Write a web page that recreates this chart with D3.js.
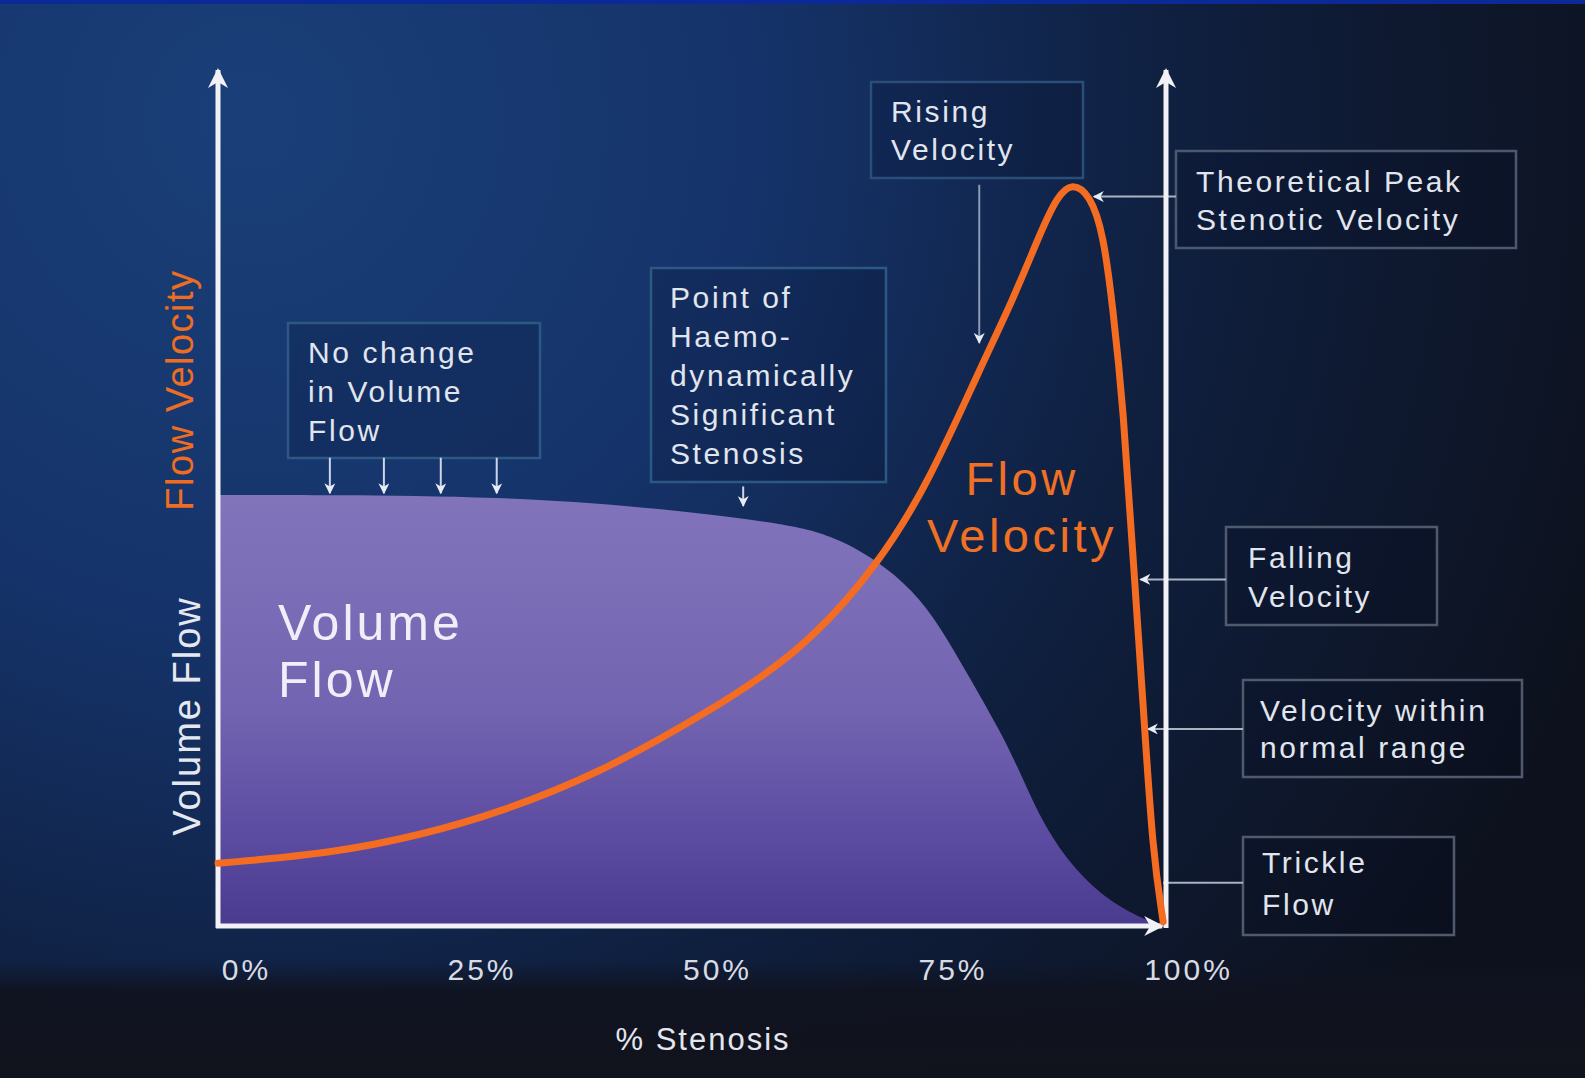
<!DOCTYPE html>
<html lang="en">
<head>
<meta charset="UTF-8">
<title>Flow velocity and volume flow vs % stenosis</title>
<script src="https://d3js.org/d3.v7.min.js"></script>
<style>
  html, body { margin: 0; padding: 0; background: #0e1322; }
  svg { display: block; font-family: "Liberation Sans", Arial, sans-serif; }
</style>
</head>
<body>
<script>
// ---- data (x = % stenosis, y = relative units 0-100) ----
var stenosisTicks = [0, 25, 50, 75, 100];

var volumeX = [0, 11.8, 29.7, 45.1, 59.3, 64.6, 69.5, 73.3, 76.2, 79.0, 82.5, 84.6, 87.2, 90.4, 94.1, 97.8, 99.4];
var volumeY = [50.9, 50.9, 50.7, 49.5, 47.6, 46.2, 43.2, 39.6, 35.3, 29.8, 23.0, 18.1, 11.5, 6.5, 2.7, 0.6, 0];

var velocityX = [0, 12.2, 21.6, 29.7, 40.3, 50.8, 61.4, 69.8, 75.1, 80.4, 83.9, 86.7, 88.5, 90.1, 92.0, 93.4, 94.4, 95.5, 96.5, 97.6, 98.6, 99.7];
var velocityY = [7.3, 8.5, 10.7, 13.3, 18.0, 24.6, 32.1, 42.8, 52.7, 65.9, 74.1, 81.8, 86.2, 87.9, 86.4, 81.8, 73.0, 61.2, 43.7, 26.0, 8.5, 0.4];

// annotation texts and the point (x %, y units) each one refers to
var noteLines = [
  ["No change", "in Volume", "Flow"],
  ["Point of", "Haemo-", "dynamically", "Significant", "Stenosis"],
  ["Rising", "Velocity"],
  ["Theoretical Peak", "Stenotic Velocity"],
  ["Falling", "Velocity"],
  ["Velocity within", "normal range"],
  ["Trickle", "Flow"]
];
var noChangeArrowsX = [11.8, 17.5, 23.5, 29.4];
var haemoArrowX = 55.4;
var risingArrow = [80.3, 87.6, 68.9];   // x, from y, to y
var sideAnchors = [[92.4, 86.2], [97.3, 40.9], [98.1, 23.2], [99.7, 5.0]]; // peak, falling, normal, trickle

// ---- layout ----
var W = 1585, H = 1078;
var svg = d3.select("body").append("svg")
    .attr("width", W)
    .attr("height", H);

var x = d3.scaleLinear().domain([0, 100]).range([218, 1166]);
var y = d3.scaleLinear().domain([0, 100]).range([925, 80]);
var xLabel = d3.scaleLinear().domain([0, 100]).range([246, 1188]);

var defs = svg.append("defs");

var bg = defs.append("radialGradient").attr("id", "bg")
    .attr("gradientUnits", "userSpaceOnUse")
    .attr("cx", 250).attr("cy", 120).attr("r", 1450);
bg.append("stop").attr("offset", 0).attr("stop-color", "#1a3f78");
bg.append("stop").attr("offset", 0.35).attr("stop-color", "#15336a");
bg.append("stop").attr("offset", 0.65).attr("stop-color", "#0f1f3e");
bg.append("stop").attr("offset", 1).attr("stop-color", "#0d111d");

var band = defs.append("linearGradient").attr("id", "band")
    .attr("x1", 0).attr("y1", 0).attr("x2", 0).attr("y2", 1);
band.append("stop").attr("offset", 0).attr("stop-color", "#0f1424").attr("stop-opacity", 0);
band.append("stop").attr("offset", 0.25).attr("stop-color", "#10131f").attr("stop-opacity", 0.9);
band.append("stop").attr("offset", 1).attr("stop-color", "#11131c").attr("stop-opacity", 1);

var fillGrad = defs.append("linearGradient").attr("id", "vol")
    .attr("gradientUnits", "userSpaceOnUse")
    .attr("x1", 0).attr("y1", y(51)).attr("x2", 0).attr("y2", y(0));
fillGrad.append("stop").attr("offset", 0).attr("stop-color", "#8274bb");
fillGrad.append("stop").attr("offset", 0.5).attr("stop-color", "#7364b1");
fillGrad.append("stop").attr("offset", 0.8).attr("stop-color", "#5b4ba1");
fillGrad.append("stop").attr("offset", 1).attr("stop-color", "#4b3b8f");

// arrow heads
function marker(id, color, size) {
  defs.append("marker").attr("id", id)
      .attr("viewBox", "0 0 10 10").attr("refX", 9).attr("refY", 5)
      .attr("markerWidth", size).attr("markerHeight", size)
      .attr("markerUnits", "userSpaceOnUse")
      .attr("orient", "auto")
      .append("path").attr("d", "M0,0 L10,5 L0,10 L3,5 Z").attr("fill", color);
}
marker("axisHead", "#f2f2f6", 20);
marker("noteHead", "#e8ecf4", 11);

svg.append("rect").attr("width", W).attr("height", H).attr("fill", "url(#bg)");
svg.append("rect").attr("y", 960).attr("width", W).attr("height", H - 960).attr("fill", "url(#band)");
svg.append("rect").attr("width", W).attr("height", 4).attr("fill", "#0b2a98");

// ---- volume flow area ----
var volData = volumeX.map(function (d, i) { return [d, volumeY[i]]; });
var area = d3.area()
    .x(function (d) { return x(d[0]); })
    .y0(y(0))
    .y1(function (d) { return y(d[1]); })
    .curve(d3.curveBasis);
svg.append("path").datum(volData)
    .attr("d", area)
    .attr("fill", "url(#vol)");

svg.append("text")
    .attr("x", 278).attr("y", 640)
    .attr("fill", "#f1eef8").attr("font-size", 50).attr("letter-spacing", 3)
    .selectAll("tspan").data(["Volume", "Flow"]).join("tspan")
    .attr("x", 278).attr("dy", function (d, i) { return i ? 57 : 0; })
    .text(function (d) { return d; });

// ---- annotation boxes ----
var boxes = [
  { r: [288, 323, 252, 135], tx: 308, ty: 363, stroke: "#2c5884" },
  { r: [651, 268, 235, 214], tx: 670, ty: 308, stroke: "#2c5884" },
  { r: [871, 82, 212, 96], tx: 891, ty: 122, stroke: "#2b4e78" },
  { r: [1176, 151, 340, 97], tx: 1196, ty: 192, stroke: "#4b5870" },
  { r: [1226, 527, 211, 98], tx: 1248, ty: 568, stroke: "#4f5a6c" },
  { r: [1243, 680, 279, 97], tx: 1260, ty: 721, stroke: "#4f5a6c" },
  { r: [1243, 837, 211, 98], tx: 1262, ty: 873, stroke: "#4f5a6c" }
];
var lineGap = [39, 39, 38, 38, 39, 37, 42];

boxes.forEach(function (b, k) {
  svg.append("rect")
      .attr("x", b.r[0]).attr("y", b.r[1]).attr("width", b.r[2]).attr("height", b.r[3])
      .attr("fill", "rgba(5,12,35,0.18)")
      .attr("stroke", b.stroke).attr("stroke-width", 2.5);
  svg.append("text")
      .attr("fill", "#e1e5ee").attr("font-size", 30).attr("letter-spacing", 2.6)
      .selectAll("tspan").data(noteLines[k]).join("tspan")
      .attr("x", b.tx)
      .attr("y", function (d, i) { return b.ty + i * lineGap[k]; })
      .text(function (d) { return d; });
});

// down arrows under the first two boxes
svg.selectAll(".nc").data(noChangeArrowsX).join("line")
    .attr("x1", function (d) { return x(d); }).attr("x2", function (d) { return x(d); })
    .attr("y1", y(55.3)).attr("y2", y(51.1))
    .attr("stroke", "#cdd6e6").attr("stroke-width", 2)
    .attr("marker-end", "url(#noteHead)");

svg.append("line")
    .attr("x1", x(haemoArrowX)).attr("x2", x(haemoArrowX))
    .attr("y1", y(51.9)).attr("y2", y(49.6))
    .attr("stroke", "#cdd6e6").attr("stroke-width", 2)
    .attr("marker-end", "url(#noteHead)");

svg.append("line")
    .attr("x1", x(risingArrow[0])).attr("x2", x(risingArrow[0]))
    .attr("y1", y(risingArrow[1])).attr("y2", y(risingArrow[2]))
    .attr("stroke", "#8c9ab2").attr("stroke-width", 2)
    .attr("marker-end", "url(#noteHead)");

// leaders from the right-hand boxes back to the curve
var boxLeft = [1176, 1226, 1243, 1243];
sideAnchors.forEach(function (a, i) {
  svg.append("line")
      .attr("x1", boxLeft[i]).attr("x2", x(a[0]))
      .attr("y1", y(a[1])).attr("y2", y(a[1]))
      .attr("stroke", "#aab3c2").attr("stroke-width", 2)
      .attr("marker-end", i < 3 ? "url(#noteHead)" : null);
});

// ---- axes ----
var axisStyle = function (sel) {
  sel.attr("stroke", "#f2f2f6").attr("stroke-width", 5).attr("marker-end", "url(#axisHead)");
};
svg.append("line").attr("x1", x(0)).attr("x2", x(0)).attr("y1", y(0) + 3).attr("y2", 70).call(axisStyle);
svg.append("line").attr("x1", x(100)).attr("x2", x(100)).attr("y1", y(0) + 3).attr("y2", 70).call(axisStyle);
svg.append("line").attr("x1", x(0) - 2).attr("x2", x(99.6)).attr("y1", y(0) + 1).attr("y2", y(0) + 1).call(axisStyle);

// ---- flow velocity curve ----
var velData = velocityX.map(function (d, i) { return [d, velocityY[i]]; });
var line = d3.line()
    .x(function (d) { return x(d[0]); })
    .y(function (d) { return y(d[1]); })
    .curve(d3.curveBasis);
svg.append("path").datum(velData)
    .attr("d", line)
    .attr("fill", "none")
    .attr("stroke", "#f36c21")
    .attr("stroke-width", 7)
    .attr("stroke-linecap", "round")
    .attr("stroke-linejoin", "round");

svg.append("text")
    .attr("fill", "#f07124").attr("font-size", 47).attr("letter-spacing", 3.5)
    .attr("text-anchor", "middle")
    .selectAll("tspan").data(["Flow", "Velocity"]).join("tspan")
    .attr("x", 1022)
    .attr("y", function (d, i) { return 495 + i * 57; })
    .text(function (d) { return d; });

// ---- tick labels and titles ----
var xAxis = svg.append("g")
    .attr("transform", "translate(0,959)")
    .call(d3.axisBottom(xLabel).tickValues(stenosisTicks).tickSize(0).tickPadding(0)
        .tickFormat(function (d) { return d + "%"; }));
xAxis.select(".domain").remove();
xAxis.selectAll("text")
    .attr("fill", "#d9dbe3").attr("font-size", 30).attr("letter-spacing", 3)
    .attr("font-family", "Liberation Sans, Arial, sans-serif");

svg.append("text")
    .attr("x", 703).attr("y", 1050)
    .attr("text-anchor", "middle")
    .attr("fill", "#e4e6ee").attr("font-size", 31).attr("letter-spacing", 2)
    .text("% Stenosis");

svg.append("text")
    .attr("transform", "translate(193,390) rotate(-90)")
    .attr("text-anchor", "middle")
    .attr("fill", "#ef6d20").attr("font-size", 38).attr("letter-spacing", 1.5)
    .text("Flow Velocity");

svg.append("text")
    .attr("transform", "translate(200,716) rotate(-90)")
    .attr("text-anchor", "middle")
    .attr("fill", "#e6e8f0").attr("font-size", 38).attr("letter-spacing", 2)
    .text("Volume Flow");
</script>
</body>
</html>
